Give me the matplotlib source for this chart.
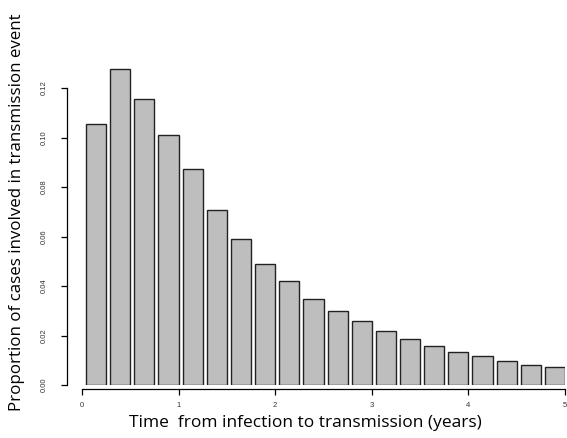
#!/usr/bin/env python3
"""Barplot of time from infection to transmission."""
import matplotlib

matplotlib.use("Agg")
import matplotlib.pyplot as plt

# 20 bins of 0.25 years from 0 to 5
bin_start = [i * 0.25 for i in range(20)]
proportion = [0.1055, 0.1275, 0.1157, 0.1011, 0.0871, 0.0707, 0.0590, 0.0490,
              0.0419, 0.0347, 0.0299, 0.0257, 0.0218, 0.0186, 0.0159, 0.0135,
              0.0116, 0.0097, 0.0082, 0.0073]
y_ticks = [0.00, 0.02, 0.04, 0.06, 0.08, 0.10, 0.12]
x_ticks = [0, 1, 2, 3, 4, 5]

W, H = 567, 438
fig = plt.figure(figsize=(W / 100, H / 100), dpi=100)
ax = fig.add_axes([82 / W, (H - 385) / H, (565 - 82) / W, (385 - 40) / H])

# R barplot style: width 1, space 0.2, scaled to 5 years
bw = 0.25 / 1.2
ax.bar([b + 0.25 - bw for b in bin_start], proportion, width=bw, align="edge",
       color="#bebebe", edgecolor="#222222", linewidth=1.0)

ax.set_xlim(0, 5)
ax.set_ylim(0, (385 - 40) / 2475)

for s in ("top", "right"):
    ax.spines[s].set_visible(False)
ax.spines["left"].set_position(("outward", 11))
ax.spines["left"].set_bounds(0, 0.12)
ax.spines["bottom"].set_position(("outward", 3))
ax.spines["bottom"].set_bounds(0, 5)
for s in ("left", "bottom"):
    ax.spines[s].set_linewidth(0.9)

ax.set_yticks(y_ticks)
ax.set_yticklabels([f"{v:.2f}" for v in y_ticks], rotation=90, va="center",
                   fontsize=5.5, family="Liberation Sans", color="#333333")
ax.set_xticks(x_ticks)
ax.set_xticklabels([str(v) for v in x_ticks], fontsize=5.5,
                   family="Liberation Sans", color="#333333")
ax.tick_params(axis="y", length=4, width=0.9, pad=10)
ax.tick_params(axis="x", length=4, width=0.9, pad=5)

fig.text(305 / W, 1 - 423 / H, "Time  from infection to transmission (years)",
         ha="center", va="center", fontsize=12.5, family="Open Sans")
fig.text(17 / W, 1 - 212 / H, "Proportion of cases involved in transmission event",
         ha="center", va="center", rotation=90, fontsize=12.2, family="Open Sans")

fig.savefig("out.png", dpi=100)
